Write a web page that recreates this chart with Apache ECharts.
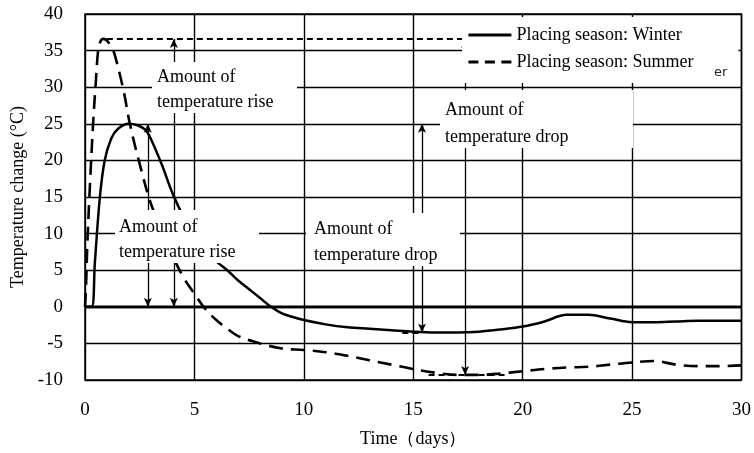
<!DOCTYPE html>
<html><head><meta charset="utf-8">
<script src="https://cdn.jsdelivr.net/npm/echarts@6/dist/echarts.min.js"></script>
<style>html,body{margin:0;padding:0;background:#fff}#c{width:754px;height:453px}</style>
</head><body><div id="c"></div>
<script>
// Winter placing season (solid)
const winterDays = [0,0.3,0.45,0.68,0.9,1.2,1.5,2,2.4,2.75,3,3.5,4,4.5,5,5.5,6,6.5,7,7.5,8,8.5,9,9.5,10,11,12,13,14,15,16,17,18,19,20,21,22,23,24,25,26,27,28,29,30];
const winterTemp = [0,0,6,15,20,23,24.3,25,24.8,24.2,23,19.5,15.5,12.3,9.8,7.8,6.2,5,3.6,2.4,1.2,0,-0.9,-1.4,-1.8,-2.4,-2.8,-3,-3.2,-3.4,-3.5,-3.5,-3.4,-3.1,-2.7,-2.0,-1.1,-1.1,-1.6,-2.1,-2.1,-2.0,-1.9,-1.9,-1.9];
// Summer placing season (dashed)
const summerDays = [0,0.05,0.1,0.2,0.37,0.5,0.6,0.7,0.82,0.95,1.1,1.3,1.75,2.05,2.5,3,3.5,4,4.5,5,5.5,6,6.5,7,8,9,10,11,12,13,14,15,16,17,18,19,20,21,22,23,24,25,26,27,28,29,30];
const summerTemp = [0,3,8,15,25,31,35,36.2,36.6,36.5,36,35,29.7,25,19.5,14.2,10.5,7,4,1.8,-0.3,-1.8,-3,-4,-5,-5.7,-5.9,-6.2,-6.7,-7.3,-7.9,-8.5,-9,-9.3,-9.3,-9.1,-8.8,-8.5,-8.3,-8.2,-7.9,-7.6,-7.4,-7.9,-8.1,-8.1,-8.0];
// Annotation arrows: [day, fromValue, toValue]
const arrowLines = [[2.87,0,25],[4.06,0,36.6],[15.4,-3.5,25],[17.37,-9.3,36.6]];
// Dotted level markers: [fromDay, toDay, value]
const levelLines = [[1.0,17.37,36.6],[14.5,15.4,-3.5],[15.7,19.2,-9.3]];
const xMin = 0, xMax = 30, xStep = 5;
const yMin = -10, yMax = 40, yStep = 5;

const zip = (a,b)=>a.map((v,i)=>[v,b[i]]);
const serif = '"Liberation Serif","Times New Roman",serif';
const chart = echarts.init(document.getElementById('c'));

function box(x,y,w,h,tx,ty,text,lh){
  return {type:'group', z:100, children:[
    {type:'rect', z:100, shape:{x:x,y:y,width:w,height:h}, style:{fill:'#fff'}},
    {type:'text', z:101, style:{x:tx,y:ty,text:text,font:'18px '+serif,fill:'#000',lineHeight:lh,verticalAlign:'top',align:'left'}}
  ]};
}

chart.setOption({
  animation:false,
  backgroundColor:'#fff',
  grid:{left:85,right:11,top:14,bottom:69,show:true,borderColor:'#000',borderWidth:1.5,containLabel:false},
  legend:{
    data:[{name:'Placing season: Winter'},{name:'Placing season: Summer',lineStyle:{type:[10,6.5]}}],
    orient:'vertical', left:462, top:17,
    padding:[9,45,12,5], itemGap:9, itemWidth:43, itemHeight:14,
    backgroundColor:'#fff', z:50,
    itemStyle:{opacity:0},
    lineStyle:{width:2.8},
    textStyle:{fontFamily:serif,fontSize:18,color:'#000'}
  },
  xAxis:{type:'value',min:xMin,max:xMax,interval:xStep,
    name:'Time（days）',nameLocation:'middle',nameGap:50,
    nameTextStyle:{fontFamily:serif,fontSize:18,color:'#000'},
    axisLine:{show:false,onZero:false},axisTick:{show:false},
    axisLabel:{fontFamily:serif,fontSize:19,color:'#000',margin:21},
    splitLine:{show:true,lineStyle:{color:'#000',width:1.4}}},
  yAxis:{type:'value',min:yMin,max:yMax,interval:yStep,
    name:'Temperature change (°C)',nameLocation:'middle',nameGap:58,
    nameTextStyle:{fontFamily:serif,fontSize:18,color:'#000'},
    axisLine:{show:false},axisTick:{show:false},
    axisLabel:{fontFamily:serif,fontSize:19,color:'#000',margin:22},
    splitLine:{show:true,lineStyle:{color:'#000',width:1.4}}},
  series:[
    {type:'line',data:[[xMin,0],[xMax,0]],symbol:'none',silent:true,z:3,
      lineStyle:{color:'#000',width:2.8}},
    {name:'Placing season: Winter',type:'line',data:zip(winterDays,winterTemp),symbol:'none',showSymbol:false,
      smooth:0.35,z:5,lineStyle:{color:'#000',width:2.5},itemStyle:{color:'#000'}},
    {name:'Placing season: Summer',type:'line',data:zip(summerDays,summerTemp),symbol:'none',showSymbol:false,
      smooth:0.35,z:5,lineStyle:{color:'#000',width:2.6,type:[14,8]},itemStyle:{color:'#000'}},
    {type:'line',data:[],silent:true,z:6,
      markLine:{silent:true,animation:false,symbol:['arrow','arrow'],symbolSize:[6,9],
        label:{show:false},lineStyle:{color:'#000',width:1.3,type:'solid'},
        data:arrowLines.map(a=>[{coord:[a[0],a[1]]},{coord:[a[0],a[2]]}])}},
    {type:'line',data:[],silent:true,z:6,
      markLine:{silent:true,animation:false,symbol:['none','none'],
        label:{show:false},lineStyle:{color:'#000',width:2,type:[6,4]},
        data:levelLines.map(a=>[{coord:[a[0],a[2]]},{coord:[a[1],a[2]]}])}}
  ],
  graphic:[
    box(152,62,145,51,157,64.5,'Amount of\ntemperature rise',25),
    box(115,210,144,53,119,214.5,'Amount of\ntemperature rise',25),
    box(440,90,193,58,445,97,'Amount of\ntemperature drop',27),
    box(306,213,154,53,314,216,'Amount of\ntemperature drop',26),
    {type:'text',z:102,style:{x:714,y:66,text:'er',font:'13px "DejaVu Sans",sans-serif',fill:'#222'}}
  ]
});
</script></body></html>
